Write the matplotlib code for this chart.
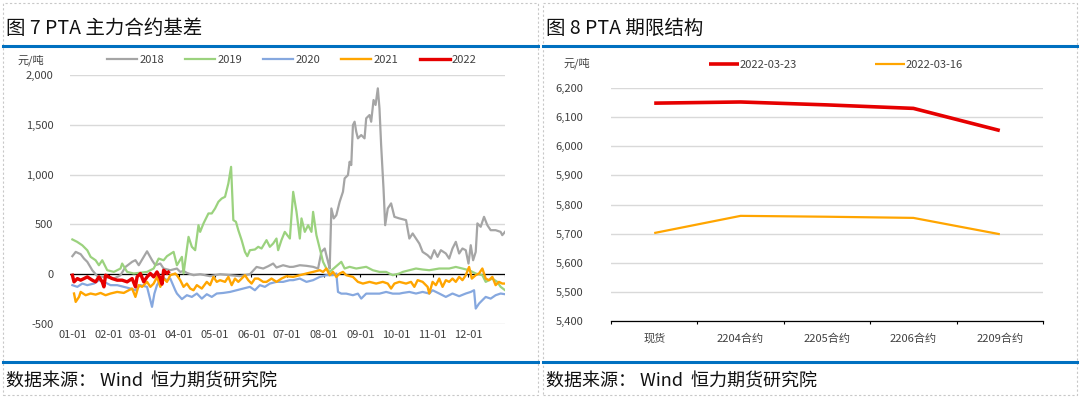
import numpy as np
import matplotlib
matplotlib.use("Agg")
from matplotlib import pyplot as plt
from matplotlib.patches import Rectangle
from matplotlib.lines import Line2D

plt.rcParams['font.family'] = ['Noto Sans CJK SC', 'DejaVu Sans']

# ---- figure 7: PTA main contract basis (day of year, yuan/ton) ----
days_2018 = [0, 2.8, 7, 9.8, 12.6, 16.8, 21, 26.6, 35, 40.6, 44.8, 50.4, 53.2, 56, 60.2, 63, 67.2, 70, 74.2, 77, 82.6,
             88.2, 91, 93.8, 96.6, 102.2, 107.8, 116.2, 124.6, 133, 141.4, 149.8, 155.4, 161, 165.2, 169.4, 172.2, 177.8,
             183.4, 186.3, 191.9, 197.5, 203.1, 207.3, 210.1, 212.9, 215.7, 217.1, 218.5, 220.5, 222.7, 225.5, 228.3,
             229.7, 232.5, 233.9, 235.3, 236.7, 238.1, 239.5, 240.9, 243.7, 246.5, 247.9, 250.7, 252.1, 254.1, 255.8,
             257.7, 259.1, 260.5, 262.5, 263.9, 266.1, 268.9, 271.7, 275.9, 281.5, 284.3, 287.1, 289.9, 292.7, 295.5,
             299.7, 302.5, 305.3, 308.1, 310.9, 315.1, 317.9, 320.7, 323.5, 326.3, 329.1, 331.9, 334.2, 336.1, 338.1,
             340.3, 341.7, 344.5, 347.3, 350.1, 352.9, 357.1, 361.3, 362.7, 365]
basis_2018 = [181, 224, 201, 157, 124, 40, -20, -27, -44, -10, 73, 124, 141, 90, 174, 230, 141, 90, 107, 57, 40,
              57, 23, 33, 13, -10, 0, -20, 0, -10, -20, 0, 73, 57, 80, 107, 67, 90,
              73, 74, 90, 84, 74, 57, 224, 258, 124, 57, 660, 560, 593, 727, 828,
              962, 995, 1129, 1096, 1497, 1531, 1430, 1364, 1397, 1364, 1565, 1598, 1531, 1749, 1699,
              1866, 1665, 1296, 861, 492, 660, 711, 576, 560, 543, 358, 409, 358, 308, 224,
              191, 157, 241, 174, 241, 208, 157, 258, 325, 208, 258, 241, 107, 291, 140,
              224, 510, 476, 576, 492, 442, 442, 425, 392, 425]

days_2019 = [0, 4, 8.4, 12.6, 15.4, 19.6, 22.4, 25.2, 29.4, 35, 40.6, 42, 46.2, 51.8, 63, 68.6, 72.8, 77, 79.8, 85.4,
             88.2, 92.4, 93.8, 98, 100.8, 103.6, 106.4, 107.8, 110.6, 114.8, 117.6, 120.4, 123.2, 126, 128.8, 130.2,
             131.6, 133.9, 135.8, 138, 140, 142.8, 145.6, 147.6, 149.8, 154, 156.8, 159.6, 163.8, 166.6, 169.4, 172.2,
             173.6, 176.4, 179.2, 183.5, 186.3, 189.1, 191.9, 193.3, 196.1, 198.9, 201.7, 203.1, 205.9, 208.7, 211.5,
             214.3, 217.1, 226.9, 229.7, 233.9, 239.5, 247.9, 253.5, 259.1, 264.7, 270.3, 275.9, 278.7, 284.3, 289.9,
             295.5, 301.1, 309.5, 317.9, 323.5, 329.1, 334.7, 340.3, 345.9, 348.7, 354.3, 358.5, 361.3, 365]
basis_2019 = [349, 325, 290, 240, 174, 140, 90, 140, 40, 23, 57, 107, 23, 7, 23, 57, 157, 140, 181, 224,
              90, 174, 7, 375, 275, 241, 492, 425, 509, 610, 610, 660, 727, 760, 777, 844,
              911, 1078, 543, 526, 442, 342, 224, 181, 241, 248, 275, 258, 342, 275, 308, 358,
              241, 342, 425, 358, 827, 626, 358, 560, 425, 492, 425, 626, 392, 258, 124,
              57, 23, 124, 57, 74, 57, 74, 40, 23, 23, -10, 7, 23, 40, 57,
              47, 40, 57, 57, 73, 57, 40, 7, -10, -77, -44, -77, -127, -160]

days_2020 = [0, 4.2, 8.4, 12.6, 18.2, 22.4, 26.6, 32.2, 37.8, 43.4, 49, 53.2, 57.4, 63, 67.2, 69.2, 71.4, 75.6, 79.8,
             82.6, 86.8, 88.2, 92.4, 96.6, 100.8, 105, 109.2, 113.4, 117.6, 121.8, 127.4, 133, 138.6, 144.2, 149.8,
             154, 158.2, 162.4, 166.6, 172.2, 177.8, 183.4, 186.3, 191.9, 197.5, 203.1, 208.7, 214.3, 219.9, 222.7,
             224.1, 226.9, 231.1, 236.7, 240.9, 243.7, 247.9, 253.5, 259.1, 264.7, 270.3, 275.9, 278.7, 284.3, 289.9,
             295.5, 301.1, 303.9, 309.5, 315.1, 320.7, 326.3, 331.9, 336.1, 338.9, 340.3, 343.1, 345.9, 348.7, 352.9,
             357.1, 361.3, 365]
basis_2020 = [-110, -127, -94, -110, -94, -60, -77, -110, -110, -127, -144, -161, -110, -127, -328, -195, -110, -27, -60,
              -44, -161, -194, -250, -211, -228, -194, -245, -201, -228, -194, -188, -178, -161, -144, -127,
              -161, -110, -127, -94, -77, -77, -60, -60, -44, -77, -60, -27, -10, -10, 7,
              -178, -195, -195, -211, -195, -245, -195, -195, -195, -178, -195, -195, -188, -178, -194,
              -178, -194, -161, -194, -228, -194, -221, -194, -178, -161, -345, -295, -261, -228, -245,
              -211, -194, -201]

days_2021 = [1.4, 2.8, 5.6, 7, 11.2, 15.4, 19.6, 23.8, 28, 32.2, 37.8, 43.4, 47.6, 50.4, 53.2, 56, 58.8, 63, 65.8, 68.6,
             71.4, 74.2, 77, 79.8, 82.6, 86.8, 88.2, 91, 93.8, 96.6, 99.4, 102.2, 105, 109.2, 113.4, 116.2, 119,
             121.8, 124.6, 128.8, 131.6, 134.4, 137.2, 140, 142.8, 145.6, 148.4, 151.2, 154, 156.8, 161, 163.8, 168,
             172.2, 176.4, 180.6, 186.3, 191.9, 197.5, 203.1, 208.7, 211.5, 214.3, 217.1, 219.9, 222.7, 225.5, 228.3,
             231.1, 236.7, 240.9, 245.1, 250.7, 256.3, 261.9, 266.1, 268.9, 271.7, 275.9, 281.5, 285.7, 288.5, 291.3,
             295.5, 299.7, 301.1, 303.9, 306.7, 309.5, 312.3, 315.1, 317.9, 320.7, 323.5, 326.3, 329.1, 331.9, 334.7,
             337, 340.3, 343.1, 345.9, 348.7, 351.5, 354.3, 357.1, 359.9, 362.7, 365]
basis_2021 = [-194, -278, -228, -178, -211, -194, -205, -188, -211, -194, -178, -188, -161, -144, -228, -110, -127, -77, -127, -94,
              -27, -127, -44, -77, -10, 7, -10, -60, -127, -94, -144, -161, -110, -144, -77, -110, -27,
              -77, -60, -77, -27, -110, -44, -77, -44, -10, -60, -94, -44, -44, -77, -77, -44,
              -77, -44, -20, -27, -10, 7, 23, 40, 23, 57, -10, 23, -27, 7, 23,
              -10, -27, -77, -94, -77, -94, -77, -94, -144, -94, -77, -94, -77, -127, -60,
              -77, -127, -194, -77, -110, -44, -127, -60, -77, -44, -77, -27, -60, -10, 73,
              -44, -10, 7, 57, -44, -60, -27, -110, -77, -94, -94]

days_2022 = [0, 1.4, 4.2, 7, 9.8, 12.6, 16.8, 19.6, 22.4, 25.2, 26.6, 28, 30.8, 33.6, 37.8, 42, 46.2, 50.4, 53.2, 54.6,
             57.4, 60.2, 63, 65.8, 68.6, 71.4, 74.2, 75.6, 77, 79.8, 81]
basis_2022 = [-10, -77, -44, -60, -44, -27, -60, -77, -27, -77, -127, -10, -27, -44, -60, -60, -77, -44, -127, -27,
              7, -77, -27, 7, -27, 23, -44, -100, 40, 7, 20]

month_starts = [0, 31, 59, 90, 120, 151, 181, 212, 243, 273, 304, 334]
month_labels = ["01-01", "02-01", "03-01", "04-01", "05-01", "06-01",
                "07-01", "08-01", "09-01", "10-01", "11-01", "12-01"]

# ---- figure 8: PTA term structure ----
contracts = ["现货", "2204合约", "2205合约", "2206合约", "2209合约"]
price_0323 = [6148, 6152, 6142, 6130, 6054]
price_0316 = [5702, 5761, 5758, 5754, 5698]

W, H = 1080, 397
fig = plt.figure(figsize=(W / 100, H / 100), dpi=100)
grid_c = "#D9D9D9"
tick_c = "#404040"
blue_bar = "#0070C0"


def fx(px):
    return px / W


def fy(py):
    return 1 - py / H


# panel frames, title bars, source lines
for x0, x1, title in [(3, 538, "图 7 PTA 主力合约基差"), (543, 1077, "图 8 PTA 期限结构")]:
    fig.patches.append(Rectangle((fx(x0), fy(395)), fx(x1 - x0), (395 - 3) / H, transform=fig.transFigure,
                                 fill=False, ec="#C8C8C8", lw=0.8, ls=(0, (2, 2))))
    fig.add_artist(Line2D([fx(x0), fx(x1)], [fy(46), fy(46)], color=blue_bar, lw=2.2))
    fig.add_artist(Line2D([fx(x0), fx(x1)], [fy(362), fy(362)], color=blue_bar, lw=2.2))
    fig.text(fx(x0 + 3), fy(28), title, fontsize=14, va="center", ha="left", color="#111111")
    fig.text(fx(x0 + 3), fy(381), "数据来源： Wind  恒力期货研究院", fontsize=13, va="center", ha="left",
             color="#111111")

# ---- left chart ----
ax = fig.add_axes([fx(70), fy(324), fx(435), (324 - 75) / H])
series = [(days_2018, basis_2018, "#A5A5A5", "2018", 1.6),
          (days_2019, basis_2019, "#9BD27E", "2019", 1.6),
          (days_2020, basis_2020, "#86A8DF", "2020", 1.6),
          (days_2021, basis_2021, "#FFA500", "2021", 1.7),
          (days_2022, basis_2022, "#E60000", "2022", 2.4)]
for d, v, c, lab, lw in series:
    ax.plot(d, v, color=c, lw=lw, label=lab, zorder=3)
ax.set_xlim(-2, 365)
ax.set_ylim(-500, 2000)
ax.set_yticks([-500, 0, 500, 1000, 1500, 2000])
ax.set_yticklabels(["-500", "0", "500", "1,000", "1,500", "2,000"])
ax.set_xticks(month_starts)
ax.set_xticklabels(month_labels)
ax.grid(axis="y", color=grid_c, lw=1)
ax.set_axisbelow(True)
for s in ax.spines.values():
    s.set_visible(False)
ax.tick_params(length=0, labelsize=8, colors=tick_c, pad=4)
ax.tick_params(axis="y", pad=12)
ax.axhline(0, color="black", lw=0.9, zorder=2)
ax.vlines(month_starts + [365], -28, 0, color="black", lw=0.8, zorder=2)
ax.text(-0.09, 1.06, "元/吨", transform=ax.transAxes, fontsize=8, color=tick_c, ha="center", va="center")
ax.legend(loc="center", bbox_to_anchor=(fx(292), fy(60)), bbox_transform=fig.transFigure, ncol=5,
          frameon=False, fontsize=8, handlelength=2.7, handletextpad=0.2, columnspacing=1.9,
          labelcolor=tick_c)

# ---- right chart ----
ax2 = fig.add_axes([fx(611), fy(321), fx(432), (321 - 88) / H])
xs = np.arange(len(contracts))
ax2.plot(xs, price_0323, color="#E60000", lw=2.6, label="2022-03-23", solid_capstyle="butt")
ax2.plot(xs, price_0316, color="#FFA500", lw=1.6, label="2022-03-16", solid_capstyle="butt")
ax2.set_xlim(-0.5, len(contracts) - 0.5)
ax2.set_ylim(5400, 6200)
yt = np.arange(5400, 6201, 100)
ax2.set_yticks(yt)
ax2.set_yticklabels([f"{t:,}" for t in yt])
ax2.set_xticks(xs)
ax2.set_xticklabels(contracts)
ax2.grid(axis="y", color=grid_c, lw=1)
ax2.set_axisbelow(True)
for s in ax2.spines.values():
    s.set_visible(False)
ax2.spines["bottom"].set_visible(True)
ax2.spines["bottom"].set_color("black")
ax2.spines["bottom"].set_linewidth(0.9)
ax2.tick_params(length=0, labelsize=8, colors=tick_c)
ax2.tick_params(axis="x", pad=9)
ax2.tick_params(axis="y", pad=20)
ax2.vlines(np.arange(len(contracts) + 1) - 0.5, 5400 - 10, 5400, color="black", lw=0.8, clip_on=False)
ax2.text(-0.08, 1.105, "元/吨", transform=ax2.transAxes, fontsize=8, color=tick_c, ha="center", va="center")
ax2.legend(loc="center", bbox_to_anchor=(fx(836), fy(65)), bbox_transform=fig.transFigure, ncol=2,
           frameon=False, fontsize=8, handlelength=2.7, handletextpad=0.1, columnspacing=7.0,
           labelcolor=tick_c)

fig.savefig("out.png", dpi=100)
